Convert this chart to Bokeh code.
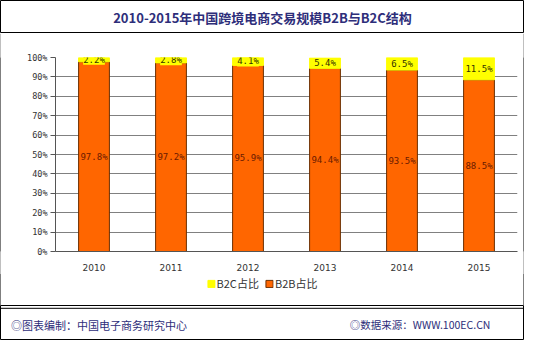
from bokeh.plotting import figure
from bokeh.models import (ColumnDataSource, FactorRange, Range1d, NumeralTickFormatter,
                          SingleIntervalTicker, LabelSet, Legend, LegendItem, Span)
from bokeh.layouts import column, row
from bokeh.core.properties import value
from bokeh.embed import file_html
from bokeh.resources import INLINE

years = ["2010", "2011", "2012", "2013", "2014", "2015"]
b2b = [0.978, 0.972, 0.959, 0.944, 0.935, 0.885]
b2c = [0.022, 0.028, 0.041, 0.054, 0.065, 0.115]
b2b_labels = ["97.8%", "97.2%", "95.9%", "94.4%", "93.5%", "88.5%"]
b2c_labels = ["2.2%", "2.8%", "4.1%", "5.4%", "6.5%", "11.5%"]
series_names = ["B2C占比", "B2B占比"]
series_colors = ["#ffff00", "#ff6600"]
title_text = "2010-2015年中国跨境电商交易规模B2B与B2C结构"
footer_left = "◎图表编制：中国电子商务研究中心"
footer_right = "◎数据来源：WWW.100EC.CN"

W = 524
FONT = "Noto Sans CJK SC"


def blank(width, height, edge=True, x_range=None, y_range=None):
    f = figure(width=width, height=height,
               x_range=x_range if x_range is not None else Range1d(0, 1),
               y_range=y_range if y_range is not None else Range1d(0, 1),
               output_backend="svg", toolbar_location=None, min_border=0)
    f.axis.visible = False
    f.grid.visible = False
    f.outline_line_color = "#000000" if edge else None
    return f


def vedge(height):
    f = blank(1, height, edge=False)
    f.background_fill_color = "#000000"
    f.border_fill_color = "#000000"
    return f


# ---- title band ----
pt = blank(W, 33)
pt.text(x=[0.5], y=[0.5], text=[title_text], text_align="center", text_baseline="middle",
        text_font=value(FONT), text_font_size="13px", text_font_style="bold",
        text_color="#2e2e7a")

# ---- chart band ----
src = ColumnDataSource(dict(
    years=years, b2b=b2b, b2c=b2c,
    b2b_mid=[v / 2 for v in b2b],
    b2c_mid=[a + c / 2 for a, c in zip(b2b, b2c)],
    b2b_labels=b2b_labels, b2c_labels=b2c_labels,
))

bar_kw = dict(x="years", width=0.4, source=src,
              color=[series_colors[1], series_colors[0]],
              line_color=["#6b2e00", series_colors[0]], line_width=1)

CH = 240
p = figure(width=W - 2, height=CH, x_range=FactorRange(*years), y_range=Range1d(0, 1),
           output_backend="svg", toolbar_location=None,
           min_border_left=54, min_border_right=6, min_border_top=24, min_border_bottom=0)
p.outline_line_color = None
p.background_fill_color = "#ffffff"
p.border_fill_color = "#ffffff"

p.vbar_stack(["b2b", "b2c"], **bar_kw)

p.add_layout(LabelSet(x="years", y="b2b_mid", text="b2b_labels", source=src,
                      text_align="center", text_baseline="middle",
                      text_font=value("DejaVu Sans Mono"), text_font_size="9px",
                      text_color="#6b1a00"))
p.add_layout(LabelSet(x="years", y="b2c_mid", text="b2c_labels", source=src,
                      text_align="center", text_baseline="middle",
                      text_font=value("DejaVu Sans Mono"), text_font_size="9px",
                      text_color="#333300",
                      background_fill_color="#ffff00", border_line_color=None))

p.yaxis.ticker = SingleIntervalTicker(interval=0.1)
p.yaxis.formatter = NumeralTickFormatter(format="0%")
p.yaxis.major_tick_out = 5
p.yaxis.major_tick_in = 0
p.yaxis.minor_tick_line_color = None
p.yaxis.axis_line_color = "#555555"
p.yaxis.major_tick_line_color = "#555555"
p.yaxis.major_label_text_font = "DejaVu Sans Mono"
p.yaxis.major_label_text_font_size = "8.5px"
p.yaxis.major_label_text_color = "#333333"
p.yaxis.major_label_standoff = 3

p.xaxis.major_tick_line_color = None
p.xaxis.axis_line_color = "#555555"
p.xaxis.major_label_text_font = "DejaVu Sans"
p.xaxis.major_label_text_font_size = "9px"
p.xaxis.major_label_text_color = "#333333"
p.xaxis.major_label_standoff = 6

p.xgrid.grid_line_color = None
p.ygrid.grid_line_color = "#808080"
p.ygrid.grid_line_width = 1

# ---- legend band (same series, renderers hidden; only their legend swatches show) ----
LH = 32
pl = blank(W - 2, LH, edge=False, x_range=FactorRange(*years), y_range=Range1d(0, 1))
lr = pl.vbar_stack(["b2b", "b2c"], **bar_kw)
for r in lr:
    r.visible = False
legend = Legend(items=[LegendItem(label=series_names[0], renderers=[lr[1]]),
                       LegendItem(label=series_names[1], renderers=[lr[0]])],
                orientation="horizontal", location="top_center",
                label_text_font=FONT, label_text_font_size="11px",
                label_text_color="#333333",
                glyph_width=9, glyph_height=9, spacing=6, label_standoff=1,
                padding=0, margin=2, border_line_color=None,
                background_fill_alpha=0)
pl.add_layout(legend)

# ---- footer band ----
pf = blank(W, 35)
pf.add_layout(Span(location=0.92, dimension="width", line_color="#000000", line_width=1))
pf.text(x=[0.02], y=[0.45], text=[footer_left], text_align="left", text_baseline="middle",
        text_font=value(FONT), text_font_size="11px", text_color="#2e2e7a")
pf.text(x=[0.935], y=[0.45], text=[footer_right], text_align="right", text_baseline="middle",
        text_font=value(FONT), text_font_size="10.5px", text_color="#2e2e7a")

layout = column(pt,
                row(vedge(CH), p, vedge(CH), spacing=0),
                row(vedge(LH), pl, vedge(LH), spacing=0),
                pf, spacing=0)

open("out.html", "w").write(file_html(layout, INLINE))
